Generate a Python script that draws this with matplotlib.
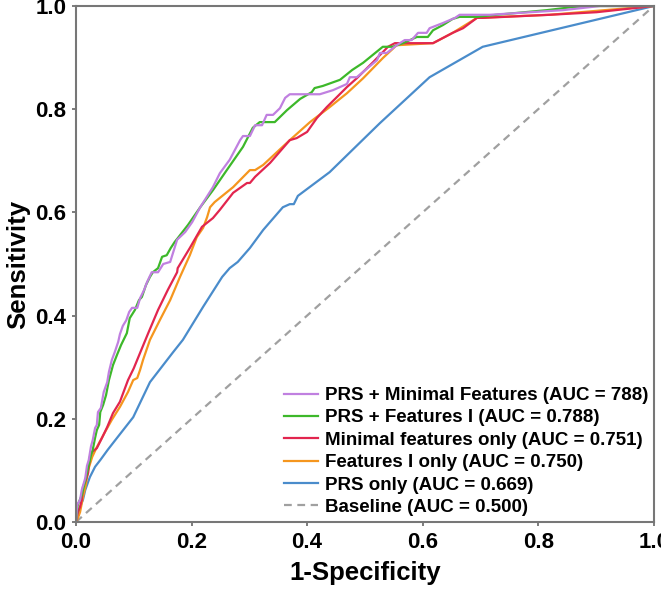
import matplotlib
matplotlib.use("Agg")
import matplotlib.pyplot as plt

# ROC curves (1-specificity, sensitivity)
fpr_prs_min = [0, 0.002, 0.007, 0.010, 0.016, 0.019, 0.022, 0.026, 0.029, 0.033, 0.036, 0.038,
               0.043, 0.048, 0.054, 0.057, 0.062, 0.067, 0.073, 0.076, 0.081, 0.087, 0.092, 0.097,
               0.106, 0.111, 0.118, 0.123, 0.131, 0.142, 0.151, 0.163, 0.175, 0.189, 0.201, 0.215,
               0.237, 0.249, 0.266, 0.284, 0.289, 0.301, 0.310, 0.322, 0.330, 0.341, 0.353, 0.362,
               0.370, 0.422, 0.445, 0.469, 0.474, 0.486, 0.503, 0.521, 0.526, 0.538, 0.555, 0.569,
               0.581, 0.592, 0.607, 0.612, 0.635, 0.656, 0.664, 0.716, 0.843, 0.907, 1.0]
tpr_prs_min = [0, 0.033, 0.043, 0.062, 0.085, 0.109, 0.120, 0.147, 0.159, 0.182, 0.188, 0.213,
               0.221, 0.252, 0.271, 0.291, 0.314, 0.329, 0.349, 0.364, 0.380, 0.391, 0.407, 0.415,
               0.415, 0.434, 0.450, 0.465, 0.484, 0.484, 0.500, 0.504, 0.547, 0.562, 0.581, 0.610,
               0.649, 0.676, 0.702, 0.740, 0.748, 0.748, 0.769, 0.769, 0.789, 0.789, 0.802, 0.822,
               0.829, 0.829, 0.837, 0.849, 0.862, 0.862, 0.878, 0.895, 0.909, 0.909, 0.924, 0.934,
               0.934, 0.948, 0.948, 0.957, 0.967, 0.977, 0.983, 0.983, 0.992, 1.0, 1.0]

fpr_prs_feat = [0, 0.003, 0.010, 0.017, 0.022, 0.026, 0.029, 0.033, 0.036, 0.040, 0.042, 0.047,
                0.052, 0.057, 0.064, 0.071, 0.078, 0.088, 0.093, 0.102, 0.109, 0.114, 0.121, 0.128,
                0.133, 0.142, 0.149, 0.157, 0.164, 0.171, 0.176, 0.194, 0.215, 0.237, 0.261, 0.289,
                0.306, 0.318, 0.344, 0.365, 0.388, 0.408, 0.413, 0.427, 0.457, 0.478, 0.497, 0.531,
                0.548, 0.566, 0.590, 0.609, 0.618, 0.635, 0.652, 0.664, 0.694, 0.728, 0.815, 0.860,
                0.889, 1.0]
tpr_prs_feat = [0, 0.033, 0.052, 0.085, 0.110, 0.130, 0.140, 0.163, 0.178, 0.188, 0.213, 0.227,
                0.246, 0.275, 0.304, 0.324, 0.343, 0.366, 0.395, 0.411, 0.430, 0.436, 0.459, 0.475,
                0.484, 0.492, 0.514, 0.517, 0.531, 0.543, 0.550, 0.576, 0.610, 0.643, 0.682, 0.727,
                0.764, 0.775, 0.775, 0.798, 0.820, 0.833, 0.841, 0.845, 0.857, 0.876, 0.890, 0.921,
                0.921, 0.928, 0.940, 0.940, 0.953, 0.963, 0.975, 0.979, 0.979, 0.983, 0.992, 0.998,
                1.0, 1.0]

fpr_min = [0, 0.003, 0.007, 0.010, 0.012, 0.017, 0.021, 0.024, 0.028, 0.036, 0.045, 0.054,
           0.064, 0.076, 0.090, 0.100, 0.111, 0.125, 0.142, 0.159, 0.175, 0.176, 0.197, 0.218,
           0.237, 0.249, 0.272, 0.296, 0.301, 0.310, 0.336, 0.370, 0.382, 0.400, 0.417, 0.434,
           0.452, 0.469, 0.486, 0.514, 0.540, 0.552, 0.618, 0.652, 0.670, 0.694, 0.704, 0.820,
           0.901, 1.0]
tpr_min = [0, 0.019, 0.029, 0.043, 0.068, 0.081, 0.095, 0.126, 0.136, 0.143, 0.163, 0.184,
           0.211, 0.233, 0.275, 0.298, 0.328, 0.366, 0.411, 0.450, 0.484, 0.492, 0.531, 0.572,
           0.589, 0.605, 0.638, 0.657, 0.657, 0.669, 0.696, 0.740, 0.744, 0.756, 0.783, 0.804,
           0.824, 0.843, 0.860, 0.891, 0.921, 0.928, 0.928, 0.948, 0.957, 0.977, 0.977, 0.983,
           0.988, 1.0]

fpr_feat = [0, 0.002, 0.007, 0.012, 0.017, 0.021, 0.028, 0.036, 0.050, 0.062, 0.076, 0.090,
            0.099, 0.106, 0.111, 0.116, 0.128, 0.145, 0.163, 0.180, 0.197, 0.209, 0.220, 0.227,
            0.232, 0.240, 0.272, 0.301, 0.310, 0.324, 0.370, 0.405, 0.439, 0.469, 0.497, 0.531,
            0.555, 0.618, 0.652, 0.694, 0.820, 1.0]
tpr_feat = [0, 0.004, 0.019, 0.048, 0.072, 0.101, 0.126, 0.145, 0.174, 0.198, 0.223, 0.252,
            0.275, 0.279, 0.295, 0.314, 0.353, 0.391, 0.430, 0.475, 0.517, 0.552, 0.570, 0.591,
            0.610, 0.620, 0.649, 0.682, 0.682, 0.692, 0.740, 0.775, 0.804, 0.831, 0.860, 0.899,
            0.924, 0.928, 0.948, 0.977, 0.983, 1.0]

fpr_prs = [0, 0.002, 0.007, 0.012, 0.016, 0.024, 0.033, 0.042, 0.055, 0.071, 0.099, 0.128,
           0.168, 0.185, 0.220, 0.253, 0.266, 0.280, 0.301, 0.324, 0.358, 0.370, 0.377, 0.384,
           0.439, 0.526, 0.612, 0.704, 1.0]
tpr_prs = [0, 0.004, 0.029, 0.043, 0.062, 0.087, 0.107, 0.120, 0.140, 0.163, 0.203, 0.271,
           0.329, 0.353, 0.417, 0.475, 0.492, 0.504, 0.531, 0.566, 0.610, 0.616, 0.616, 0.632,
           0.678, 0.773, 0.862, 0.921, 1.0]

base = [0, 1]

labels = ["PRS + Minimal Features (AUC = 788)",
          "PRS + Features I (AUC = 0.788)",
          "Minimal features only (AUC = 0.751)",
          "Features I only (AUC = 0.750)",
          "PRS only (AUC = 0.669)",
          "Baseline (AUC = 0.500)"]
colors = ["#c080e0", "#3db82a", "#e2254e", "#f5961e", "#4a8ccb", "#a0a0a0"]

plt.rcParams["font.family"] = ["Liberation Sans", "DejaVu Sans"]
plt.rcParams["font.weight"] = "bold"

fig = plt.figure(figsize=(6.61, 5.90), dpi=100)
ax = fig.add_axes([0.115, 0.1153, 0.874, 0.8745])

lw = 1.6
h_base, = ax.plot(base, base, color=colors[5], lw=lw, ls=(0, (3.5, 2.5)))
h_prs, = ax.plot(fpr_prs, tpr_prs, color=colors[4], lw=lw)
h_feat, = ax.plot(fpr_feat, tpr_feat, color=colors[3], lw=lw)
h_min, = ax.plot(fpr_min, tpr_min, color=colors[2], lw=lw)
h_pf, = ax.plot(fpr_prs_feat, tpr_prs_feat, color=colors[1], lw=lw)
h_pm, = ax.plot(fpr_prs_min, tpr_prs_min, color=colors[0], lw=lw)

ax.set_xlim(0, 1)
ax.set_ylim(0, 1)
ax.set_xticks([0, 0.2, 0.4, 0.6, 0.8, 1.0])
ax.set_yticks([0, 0.2, 0.4, 0.6, 0.8, 1.0])
ax.set_xticklabels(["0.0", "0.2", "0.4", "0.6", "0.8", "1.0"])
ax.set_yticklabels(["0.0", "0.2", "0.4", "0.6", "0.8", "1.0"])
ax.tick_params(labelsize=16, length=3, width=1.2, color="#666666", pad=4)
for s in ax.spines.values():
    s.set_color("#777777")
    s.set_linewidth(1.5)

ax.set_xlabel("1-Specificity", fontsize=18.5, fontweight="bold", labelpad=6)
ax.set_ylabel("Sensitivity", fontsize=18.5, fontweight="bold", labelpad=4)

ax.legend([h_pm, h_pf, h_min, h_feat, h_prs, h_base], labels,
          loc="lower right", bbox_to_anchor=(1.012, -0.012),
          frameon=False, fontsize=13.5,
          handlelength=1.8, handletextpad=0.4, labelspacing=0.28,
          borderaxespad=0.25)

fig.savefig("out.png", dpi=100)
